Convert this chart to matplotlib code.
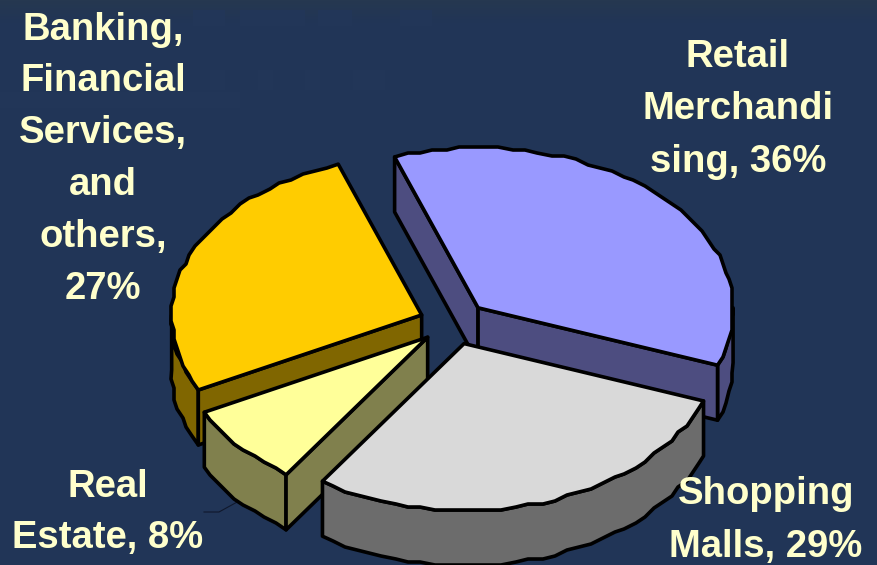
import numpy as np
import matplotlib
matplotlib.use("Agg")
import matplotlib.pyplot as plt
from matplotlib.patches import Polygon, Rectangle

# pie data
slice_names = ["Retail Merchandising", "Shopping Malls", "Real Estate", "Banking, Financial Services, and others"]
slice_values = [36, 29, 8, 27]
top_colors = ["#9999FF", "#D9D9D9", "#FFFF99", "#FFCC00"]
side_colors = ["#4D4D80", "#6C6C6C", "#80804D", "#806600"]

# label text, line by line
retail_lines = ["Retail", "Merchandi", "sing, 36%"]
shopping_lines = ["Shopping", "Malls, 29%"]
estate_lines = ["Real", "Estate, 8%"]
banking_lines = ["Banking,", "Financial", "Services,", "and", "others,", "27%"]

BG = "#213557"
INK = "#FFFFCC"
CX, CY = 453.6, 323.0
RX_RIGHT, RX_LEFT = 255.0, 250.0
RY_BACK, RY_FRONT = 160.0, 167.0
DEPTH = 55.0
EXPLODE = 0.135
START = 109.5
GRID = 3.0

plt.rcParams["font.family"] = ["Liberation Sans", "DejaVu Sans"]

fig = plt.figure(figsize=(8.77, 5.65), dpi=100, facecolor=BG)
ax = fig.add_axes([0, 0, 1, 1])
ax.axis("off")

# faint texture in the backdrop
ax.imshow(np.linspace(0, 1, 24).reshape(-1, 1), extent=(0, 877, 24, 0), aspect="auto",
          cmap=matplotlib.colors.LinearSegmentedColormap.from_list("top", ["#263850", BG]), zorder=0)
ax.set_xlim(0, 877)
ax.set_ylim(565, 0)
for x, y, w, h in [(193, 10, 32, 16), (240, 10, 65, 16), (318, 10, 34, 16), (400, 10, 32, 16),
                   (210, 70, 15, 20), (258, 70, 15, 20), (305, 70, 15, 20), (353, 70, 32, 20),
                   (0, 92, 240, 16)]:
    ax.add_patch(Rectangle((x, y), w, h, fc="#223658", ec="none", zorder=0.5))


def rim(center, a):
    # the front and right of the disc read slightly larger than the back and left
    a = np.radians(a)
    c, s = np.cos(a), np.sin(a)
    return np.array([center[0] + (RX_RIGHT if c > 0 else RX_LEFT) * c,
                     center[1] - (RY_BACK if s > 0 else RY_FRONT) * s])


def arc(center, a0, a1):
    # fine steps snapped to a grid give the slightly rough outline of the curve
    n = max(int(abs(a1 - a0) / 3), 1)
    pts = [rim(center, a) for a in np.linspace(a0, a1, n + 1)]
    inner = [np.round(p / GRID) * GRID for p in pts[1:-1]]
    return np.array([pts[0]] + inner + [pts[-1]])


def poly(points, color, z):
    ax.add_patch(Polygon(points, closed=True, fc=color, ec="black", lw=2.6, joinstyle="round", zorder=z))


def cut_wall_visible(apex, edge, mid):
    e = edge - apex
    m = mid - apex
    return np.sign(e[0]) != np.sign(e[0] * m[1] - e[1] * m[0])


# slices run clockwise from START
total = sum(slice_values)
a0 = START
angles = []
for v in slice_values:
    a1 = a0 - v / total * 360
    angles.append((a0, a1))
    a0 = a1

draw_order = [3, 0, 2, 1]
down = np.array([0, DEPTH])
for z, i in enumerate(draw_order):
    a0, a1 = angles[i]
    mid = (a0 + a1) / 2
    m = np.radians(mid)
    apex = np.array([CX + EXPLODE * RX_RIGHT * np.cos(m), CY - EXPLODE * RY_BACK * np.sin(m)])
    base_z = 2 + z

    # outer wall, only on the near half of the rim
    lo = max(a1, -180)
    hi = min(a0, 0)
    if hi > lo:
        front = arc(apex, hi, lo)
        poly(np.vstack([front, (front + down)[::-1]]), side_colors[i], base_z)

    # straight cut faces
    mid_pt = rim(apex, mid)
    for a in (a0, a1):
        edge = rim(apex, a)
        if cut_wall_visible(apex, edge, mid_pt):
            poly([apex, edge, edge + down, apex + down], side_colors[i], base_z + 0.1)

    poly(np.vstack([apex, arc(apex, a0, a1)]), top_colors[i], base_z + 0.2)

# leader line of the Real Estate label
leader_x = [204, 219, 239]
leader_y = [512, 512, 501]
ax.plot(leader_x, leader_y, color="#10182c", lw=0.8, zorder=1)


def label(lines, x, baselines):
    for text, y in zip(lines, baselines):
        ax.text(x, y, text, color=INK, fontsize=27.5, fontweight="bold",
                ha="center", va="baseline", zorder=10)


label(retail_lines, 738, [67, 119, 172])
label(shopping_lines, 766, [504, 557])
label(estate_lines, 108, [497, 548])
label(banking_lines, 103, [40, 91, 143, 195, 247, 299])

fig.savefig("out.png", dpi=100, facecolor=BG)
